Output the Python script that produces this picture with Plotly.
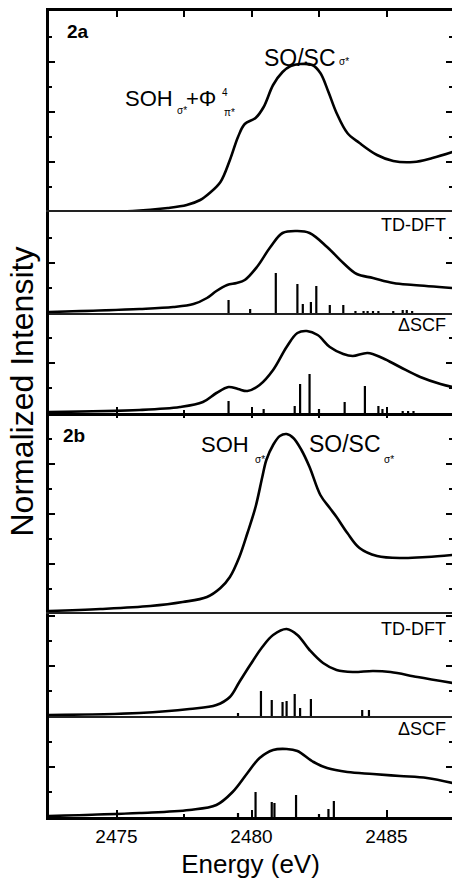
import plotly.graph_objects as go

# ---------------- data ----------------
# Panel 2a: experiment
E_2a_exp = [2472.5, 2475.6, 2476.9, 2477.6, 2478.1, 2478.45, 2478.85, 2479.2, 2479.5, 2479.75,
            2480.15, 2480.45, 2480.8, 2481.15, 2481.45, 2481.8, 2482.25, 2482.55, 2482.85,
            2483.15, 2483.55, 2484.0, 2484.65, 2485.25, 2486.0, 2486.7, 2487.45]
I_2a_exp = [0.0, 0.01, 0.04, 0.07, 0.12, 0.19, 0.30, 0.52, 0.75, 0.88,
            0.94, 1.05, 1.27, 1.40, 1.46, 1.48, 1.47, 1.39, 1.20,
            0.99, 0.79, 0.69, 0.57, 0.51, 0.50, 0.54, 0.60]

# Panel 2a: TD-DFT
E_2a_td = [2472.5, 2475.85, 2477.1, 2477.85, 2478.35, 2478.7, 2479.1, 2479.45, 2479.75, 2480.2,
           2480.7, 2481.15, 2481.7, 2482.15, 2482.8, 2483.4, 2483.9, 2484.5, 2485.25, 2486.0, 2487.45]
I_2a_td = [0.01, 0.04, 0.06, 0.09, 0.15, 0.22, 0.28, 0.30, 0.33, 0.46,
           0.66, 0.80, 0.82, 0.80, 0.66, 0.50, 0.39, 0.35, 0.30, 0.28, 0.25]
S_2a_td_E = [2479.15, 2479.95, 2480.9, 2481.7, 2481.9, 2482.2, 2482.4, 2482.9, 2483.4,
             2483.85, 2484.15, 2484.3, 2484.5, 2484.7, 2485.25, 2485.6, 2485.75, 2485.95]
S_2a_td_I = [0.13, 0.04, 0.40, 0.29, 0.09, 0.11, 0.27, 0.08, 0.08,
             0.02, 0.02, 0.02, 0.02, 0.02, 0.02, 0.03, 0.03, 0.02]

# Panel 2a: Delta-SCF
E_2a_scf = [2472.5, 2475.85, 2477.35, 2478.2, 2478.7, 2479.15, 2479.5, 2479.85, 2480.3, 2480.8,
            2481.3, 2481.7, 2482.05, 2482.45, 2482.9, 2483.4, 2483.75, 2484.3, 2484.85, 2485.5,
            2486.25, 2487.0, 2487.45]
I_2a_scf = [0.01, 0.03, 0.06, 0.11, 0.20, 0.26, 0.24, 0.22, 0.28, 0.43,
            0.66, 0.80, 0.82, 0.78, 0.66, 0.59, 0.57, 0.60, 0.55, 0.46,
            0.36, 0.29, 0.26]
S_2a_scf_E = [2479.15, 2480.45, 2481.6, 2481.8, 2482.15, 2482.5, 2483.45, 2484.2, 2484.7,
              2484.85, 2485.6, 2485.8, 2486.0]
S_2a_scf_I = [0.12, 0.04, 0.07, 0.29, 0.39, 0.04, 0.11, 0.27, 0.07,
              0.04, 0.02, 0.02, 0.02]

# Panel 2b: experiment
E_2b_exp = [2472.5, 2474.4, 2476.25, 2477.45, 2478.35, 2478.85, 2479.2, 2479.55, 2479.85, 2480.15,
            2480.4, 2480.55, 2480.8, 2481.05, 2481.3, 2481.55, 2481.85, 2482.15, 2482.55, 2482.9,
            2483.15, 2483.55, 2484.0, 2484.65, 2485.6, 2486.5, 2487.45]
I_2b_exp = [0.03, 0.05, 0.08, 0.12, 0.17, 0.26, 0.37, 0.57, 0.81, 1.07,
            1.37, 1.54, 1.69, 1.78, 1.80, 1.76, 1.64, 1.47, 1.19, 1.06,
            0.97, 0.81, 0.66, 0.58, 0.56, 0.57, 0.59]

# Panel 2b: TD-DFT
E_2b_td = [2472.5, 2475.85, 2477.7, 2478.7, 2479.2, 2479.55, 2479.95, 2480.4, 2480.8, 2481.3,
           2481.7, 2482.15, 2482.65, 2483.15, 2483.75, 2484.5, 2485.15, 2486.15, 2487.45]
I_2b_td = [0.01, 0.03, 0.07, 0.11, 0.19, 0.34, 0.51, 0.69, 0.81, 0.87,
           0.81, 0.66, 0.53, 0.46, 0.44, 0.45, 0.44, 0.39, 0.33]
S_2b_td_E = [2479.5, 2480.35, 2480.75, 2481.15, 2481.3, 2481.6, 2481.8, 2482.2, 2484.1, 2484.35]
S_2b_td_I = [0.03, 0.25, 0.16, 0.14, 0.15, 0.22, 0.08, 0.17, 0.06, 0.06]

# Panel 2b: Delta-SCF
E_2b_scf = [2472.5, 2475.85, 2477.7, 2478.7, 2479.3, 2479.85, 2480.3, 2480.8, 2481.3, 2481.7,
            2482.3, 2482.8, 2483.55, 2484.5, 2485.5, 2486.5, 2487.45]
I_2b_scf = [0.01, 0.04, 0.07, 0.12, 0.25, 0.44, 0.59, 0.67, 0.68, 0.66,
            0.55, 0.49, 0.45, 0.43, 0.41, 0.39, 0.34]
S_2b_scf_E = [2479.5, 2480.15, 2480.75, 2480.85, 2481.65, 2482.5, 2482.85, 2483.05]
S_2b_scf_I = [0.04, 0.25, 0.15, 0.14, 0.22, 0.03, 0.08, 0.16]

x_title = "Energy (eV)"
y_title = "Normalized Intensity"

# ---------------- layout geometry ----------------
W, H = 452, 882
ML, MT, MB = 49, 11, 65
PW = W - ML
PH = H - MT - MB
X_RANGE = [2472.5, 2472.5 + PW / 27.0]
# panel pixel heights, top to bottom
heights = [201, 101, 100, 201, 102, 101]
y_tops = [2.01, 1.01, 1.00, 2.01, 1.02, 1.01]

FONT = "Liberation Sans, Arial, Helvetica, sans-serif"


def sticks(E, I):
    xs, ys = [], []
    for e, h in zip(E, I):
        xs += [e, e, None]
        ys += [0, h, None]
    return xs, ys


curves = [(E_2a_exp, I_2a_exp, None, None),
          (E_2a_td, I_2a_td, S_2a_td_E, S_2a_td_I),
          (E_2a_scf, I_2a_scf, S_2a_scf_E, S_2a_scf_I),
          (E_2b_exp, I_2b_exp, None, None),
          (E_2b_td, I_2b_td, S_2b_td_E, S_2b_td_I),
          (E_2b_scf, I_2b_scf, S_2b_scf_E, S_2b_scf_I)]

fig = go.Figure()
layout = {}

doms = []
acc = PH
for h in heights:
    doms.append([(acc - h) / PH, acc / PH])
    acc -= h

minor_x = dict(tick0=2477.5, dtick=5, ticks="inside", ticklen=3, tickwidth=2,
               tickcolor="black", showgrid=False)

for i, (E, I, SE, SI) in enumerate(curves, start=1):
    xn = "x" if i == 1 else f"x{i}"
    yn = "y" if i == 1 else f"y{i}"
    fig.add_trace(go.Scatter(x=E, y=I, mode="lines", xaxis=xn, yaxis=yn,
                             line=dict(color="black", width=2.6, shape="spline", smoothing=1.0),
                             showlegend=False, hoverinfo="skip"))
    if SE is not None:
        sx, sy = sticks(SE, SI)
        fig.add_trace(go.Scatter(x=sx, y=sy, mode="lines", xaxis=xn, yaxis=yn,
                                 line=dict(color="black", width=2.2),
                                 showlegend=False, hoverinfo="skip"))
    rn = f"y{6 + i}"
    fig.add_trace(go.Scatter(x=[E[0]], y=[I[0]], mode="lines", xaxis=xn, yaxis=rn,
                             line=dict(color="rgba(0,0,0,0)", width=0),
                             showlegend=False, hoverinfo="skip"))

    xa = dict(domain=[0, 1], range=X_RANGE, anchor=yn, showgrid=False, zeroline=False,
              showticklabels=False, ticks="", showline=False, fixedrange=True)
    if i == 1:
        xa.update(side="top", showline=True, linewidth=2.5, linecolor="black",
                  ticks="inside", tickmode="linear", tick0=2475, dtick=2.5, ticklen=6,
                  tickwidth=2, tickcolor="black")
    elif i == 4:
        xa.update(side="top", showline=False,
                  ticks="inside", tickmode="linear", tick0=2475, dtick=2.5, ticklen=5,
                  tickwidth=2, tickcolor="black")
    elif i in (2, 5):
        xa.update(showline=True, mirror=True, linewidth=1.5, linecolor="#222")
    elif i == 3:
        xa.update(showline=True, linewidth=3, linecolor="black",
                  ticks="inside", tickmode="linear", tick0=2475, dtick=5, ticklen=6,
                  tickwidth=2, tickcolor="black", minor=minor_x)
    else:
        xa.update(showline=True, linewidth=2.5, linecolor="black",
                  ticks="inside", tickmode="linear", tick0=2475, dtick=5,
                  ticklen=7, tickwidth=2, tickcolor="black", showticklabels=True,
                  tickfont=dict(size=19, color="black", family=FONT),
                  minor=minor_x,
                  title=dict(text=x_title, font=dict(size=26, color="black", family=FONT),
                             standoff=10))
    layout["xaxis" if i == 1 else f"xaxis{i}"] = xa

    ya = dict(domain=doms[i - 1], range=[0, y_tops[i - 1]], anchor=xn, showgrid=False,
              zeroline=False, showticklabels=False, showline=True, linewidth=2.5,
              linecolor="black", ticks="inside", tickmode="linear", tick0=0, dtick=0.5,
              ticklen=6, tickwidth=2, tickcolor="black", fixedrange=True,
              minor=dict(tick0=0.25, dtick=0.5, ticks="inside", ticklen=3, tickwidth=2,
                         tickcolor="black", showgrid=False))
    layout["yaxis" if i == 1 else f"yaxis{i}"] = ya
    yr = dict(overlaying=yn, side="right", anchor=xn, range=[0, y_tops[i - 1]],
              showgrid=False, zeroline=False, showticklabels=False, showline=False,
              ticks="inside", tickmode="linear", tick0=0, dtick=0.5, ticklen=6, tickwidth=2,
              tickcolor="black", fixedrange=True,
              minor=dict(tick0=0.25, dtick=0.5, ticks="inside", ticklen=3, tickwidth=2,
                         tickcolor="black", showgrid=False))
    layout[f"yaxis{6 + i}"] = yr


def P(px, py):
    return (px - ML) / PW, (H - MB - py) / PH


def ann(text, px, py, size, xanchor="center", bold=False, angle=0):
    x, y = P(px, py)
    t = f"<b>{text}</b>" if bold else text
    return dict(text=t, x=x, y=y, xref="paper", yref="paper", showarrow=False,
                xanchor=xanchor, yanchor="middle", textangle=angle,
                font=dict(size=size, color="black", family=FONT))


annotations = [
    ann("2a", 77.5, 32, 19, bold=True),
    ann("SO/SC", 300, 58.5, 23),
    ann("σ*", 344, 62, 10),
    ann("SOH", 149, 98.5, 22),
    ann("σ*", 182, 111, 10),
    ann("+Φ", 201, 98.5, 22),
    ann("4", 225, 93, 10),
    ann("π*", 229, 112, 10),
    ann("TD-DFT", 448, 225, 18, xanchor="right"),
    ann("ΔSCF", 448, 325, 18, xanchor="right"),
    ann("2b", 73.5, 436, 19, bold=True),
    ann("SOH", 225, 444, 22),
    ann("σ*", 260, 459.5, 10),
    ann("SO/SC", 345, 444, 23),
    ann("σ*", 389, 459.5, 10),
    ann("TD-DFT", 448, 629, 18, xanchor="right"),
    ann("ΔSCF", 448, 729, 18, xanchor="right"),
    ann(y_title, 21.5, 392, 32, angle=-90),
]

fig.update_layout(
    width=W, height=H,
    margin=dict(l=ML, r=0, t=MT, b=MB, pad=0),
    paper_bgcolor="white", plot_bgcolor="white",
    font=dict(family=FONT, color="black"),
    showlegend=False,
    annotations=annotations,
    **layout,
)

fig.write_html("out.html", config={"displayModeBar": False},
               post_script="document.body.style.margin='0';"
                           "document.body.style.overflow='hidden';")
